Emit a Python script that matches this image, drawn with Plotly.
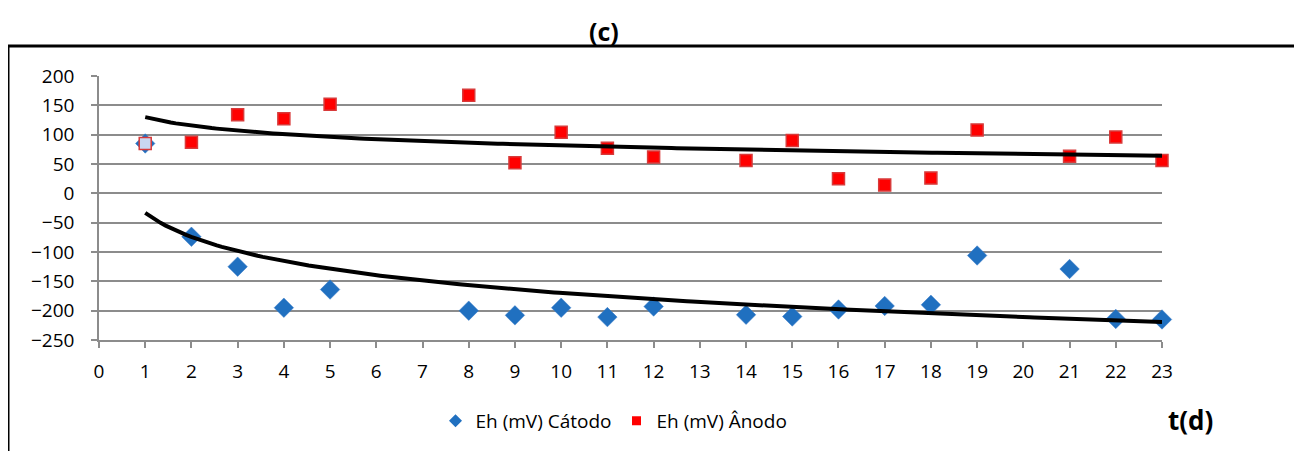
import numpy as np
import plotly.graph_objects as go

# Data
days = [1, 2, 3, 4, 5, 8, 9, 10, 11, 12, 14, 15, 16, 17, 18, 19, 21, 22, 23]
eh_catodo = [85, -74, -125, -195, -164, -200, -208, -195, -211, -193, -207, -210, -198, -192, -190, -106, -129, -214, -215]
eh_anodo = [85, 87, 134, 127, 152, 167, 52, 104, 77, 62, 56, 90, 25, 14, 26, 108, 63, 96, 56]
x_ticks = list(range(0, 24))
y_ticks = list(range(-250, 201, 50))

FONT = "Open Sans"
blue = "#2070c0"
red = "#ff0000"

def log_fit(x, y):
    x = np.array(x, float)
    y = np.array(y, float)
    b, a = np.polyfit(np.log(x), y, 1)
    xs = np.linspace(min(x), max(x), 200)
    return xs, a + b * np.log(xs)

fig = go.Figure()

xa, ya = log_fit(days, eh_anodo)
xc, yc = log_fit(days, eh_catodo)

fig.add_trace(go.Scatter(x=days, y=eh_catodo, mode="markers", showlegend=False, cliponaxis=False,
                         marker=dict(symbol="diamond", size=15, color=blue,
                                     line=dict(width=0.5, color="#3a7cc8"))))
anode_fill = ["#c9d7f0"] + [red] * (len(days) - 1)
fig.add_trace(go.Scatter(x=days, y=eh_anodo, mode="markers", showlegend=False, cliponaxis=False,
                         marker=dict(symbol="square", size=12, color=anode_fill,
                                     line=dict(width=1.5, color="#d83a3a"))))
fig.add_trace(go.Scatter(x=xa, y=ya, mode="lines", showlegend=False, cliponaxis=False,
                         line=dict(color="black", width=4), hoverinfo="skip"))
fig.add_trace(go.Scatter(x=xc, y=yc, mode="lines", showlegend=False, cliponaxis=False,
                         line=dict(color="black", width=4), hoverinfo="skip"))

fig.add_trace(go.Scatter(x=[None], y=[None], mode="markers", name="Eh (mV) Cátodo",
                         marker=dict(symbol="diamond", size=10, color=blue)))
fig.add_trace(go.Scatter(x=[None], y=[None], mode="markers", name="Eh (mV) Ânodo",
                         marker=dict(symbol="square", size=9, color=red)))

OFF = 8  # browser body margin
W, H = 1302 - OFF, 451 - OFF
L, T = 99 - OFF, 76 - OFF
R = (1302 - OFF) - (1162 - OFF)
B = (451 - OFF) - (341 - OFF)
pw, ph = W - L - R, H - T - B

def px_x(x):
    return (x - OFF - L) / pw

def px_y(y):
    return (H - B - (y - OFF)) / ph

fig.update_layout(
    width=W, height=H,
    margin=dict(l=L, r=R, t=T, b=B),
    paper_bgcolor="white", plot_bgcolor="white",
    font=dict(family=FONT, size=19, color="black"),
    showlegend=True,
    legend=dict(orientation="h", x=px_x(614), xanchor="center", y=px_y(421), yanchor="middle",
                font=dict(family=FONT, size=19), itemwidth=30, tracegroupgap=0,
                bgcolor="rgba(0,0,0,0)"),
    xaxis=dict(range=[0, 23], tickmode="array", tickvals=x_ticks,
               showgrid=False, zeroline=False,
               showline=True, linecolor="#8c8c8c", linewidth=1.5,
               ticks="outside", ticklen=6, tickcolor="#8c8c8c", tickwidth=1.5,
               ticklabelstandoff=7, tickfont=dict(family=FONT, size=19)),
    yaxis=dict(range=[-250, 200], tickmode="array", tickvals=y_ticks,
               showgrid=True, gridcolor="#8c8c8c", gridwidth=1.5, zeroline=False,
               showline=True, linecolor="#8c8c8c", linewidth=1.5,
               ticks="outside", ticklen=6, tickcolor="#8c8c8c", tickwidth=1.5,
               ticklabelstandoff=13, tickfont=dict(family=FONT, size=19)),
    annotations=[
        dict(text="<b>(c)</b>", x=px_x(604), y=px_y(31), xref="paper", yref="paper",
             showarrow=False, font=dict(family=FONT, size=25), xanchor="center", yanchor="middle"),
        dict(text="<b>t(d)</b>", x=px_x(1190), y=px_y(421), xref="paper", yref="paper",
             showarrow=False, font=dict(family=FONT, size=26), xanchor="center", yanchor="middle"),
    ],
    shapes=[
        dict(type="line", xref="paper", yref="paper", x0=px_x(8), x1=px_x(1320),
             y0=px_y(46), y1=px_y(46), line=dict(color="black", width=3)),
        dict(type="line", xref="paper", yref="paper", x0=px_x(8), x1=px_x(8),
             y0=px_y(46), y1=px_y(470), line=dict(color="black", width=3)),
    ],
)

fig.write_html("out.html")
